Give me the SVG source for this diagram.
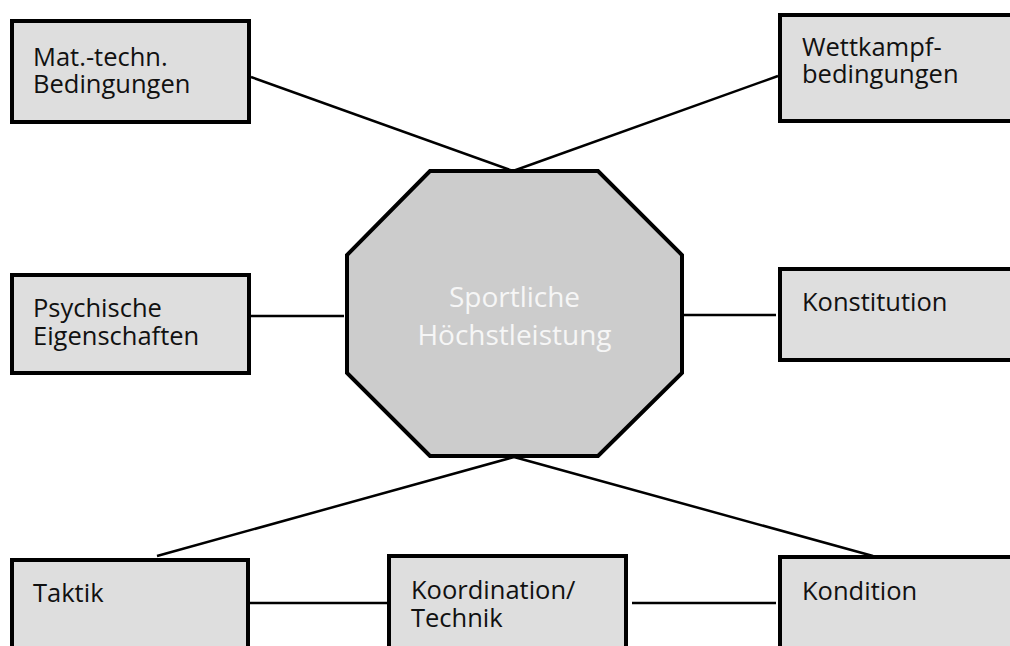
<svg xmlns="http://www.w3.org/2000/svg" width="1010" height="646" viewBox="0 0 1010 646">
  <style>
    .box { fill: #dedede; stroke: #000; stroke-width: 4; }
    .core { fill: #cccccc; stroke: #000; stroke-width: 4; stroke-linejoin: miter; }
    .lbl { font-family: "Open Sans", "Liberation Sans", sans-serif; font-size: 25.5px; fill: #111; }
    .core-lbl { font-family: "Open Sans", "Liberation Sans", sans-serif; font-size: 28px; fill: #f6f6f6; text-anchor: middle; }
    .link { stroke: #000; stroke-width: 2.5; fill: none; }
  </style>
  <rect width="1010" height="646" fill="#fff"/>

  <!-- connectors -->
  <g id="connectors">
    <line class="link" x1="251" y1="77" x2="513" y2="171"/>
    <line class="link" x1="513" y1="171" x2="778" y2="76"/>
    <line class="link" x1="250" y1="316" x2="344" y2="316"/>
    <line class="link" x1="684" y1="315" x2="776" y2="315"/>
    <line class="link" x1="514" y1="457" x2="157" y2="556"/>
    <line class="link" x1="514" y1="457" x2="873" y2="556"/>
    <line class="link" x1="250" y1="603" x2="388" y2="603"/>
    <line class="link" x1="632" y1="603" x2="776" y2="603"/>
  </g>

  <!-- central node -->
  <g id="hoechstleistung">
    <polygon class="core" points="430,171 598,171 682,255 682,373 598,456 430,456 347,373 347,255"/>
    <text class="core-lbl" x="514.5" y="306.5">Sportliche</text>
    <text class="core-lbl" x="514.5" y="345">Höchstleistung</text>
  </g>

  <g id="mat-techn">
    <rect class="box" x="12" y="21" width="237" height="101"/>
    <text class="lbl" x="33" y="65.5">Mat.-techn.</text>
    <text class="lbl" x="33" y="93">Bedingungen</text>
  </g>

  <g id="wettkampf">
    <rect class="box" x="780" y="15" width="240" height="106"/>
    <text class="lbl" x="802" y="56">Wettkampf-</text>
    <text class="lbl" x="802" y="83">bedingungen</text>
  </g>

  <g id="psychisch">
    <rect class="box" x="12" y="275" width="237" height="98"/>
    <text class="lbl" x="33" y="317">Psychische</text>
    <text class="lbl" x="33" y="345">Eigenschaften</text>
  </g>

  <g id="konstitution">
    <rect class="box" x="780" y="269" width="240" height="91"/>
    <text class="lbl" x="802" y="311">Konstitution</text>
  </g>

  <g id="taktik">
    <rect class="box" x="12" y="560" width="236" height="100"/>
    <text class="lbl" x="33" y="602">Taktik</text>
  </g>

  <g id="koordination">
    <rect class="box" x="389" y="556" width="237" height="100"/>
    <text class="lbl" x="411" y="598.5">Koordination/</text>
    <text class="lbl" x="411" y="626.5">Technik</text>
  </g>

  <g id="kondition">
    <rect class="box" x="780" y="557" width="240" height="100"/>
    <text class="lbl" x="802" y="599.5">Kondition</text>
  </g>
</svg>
